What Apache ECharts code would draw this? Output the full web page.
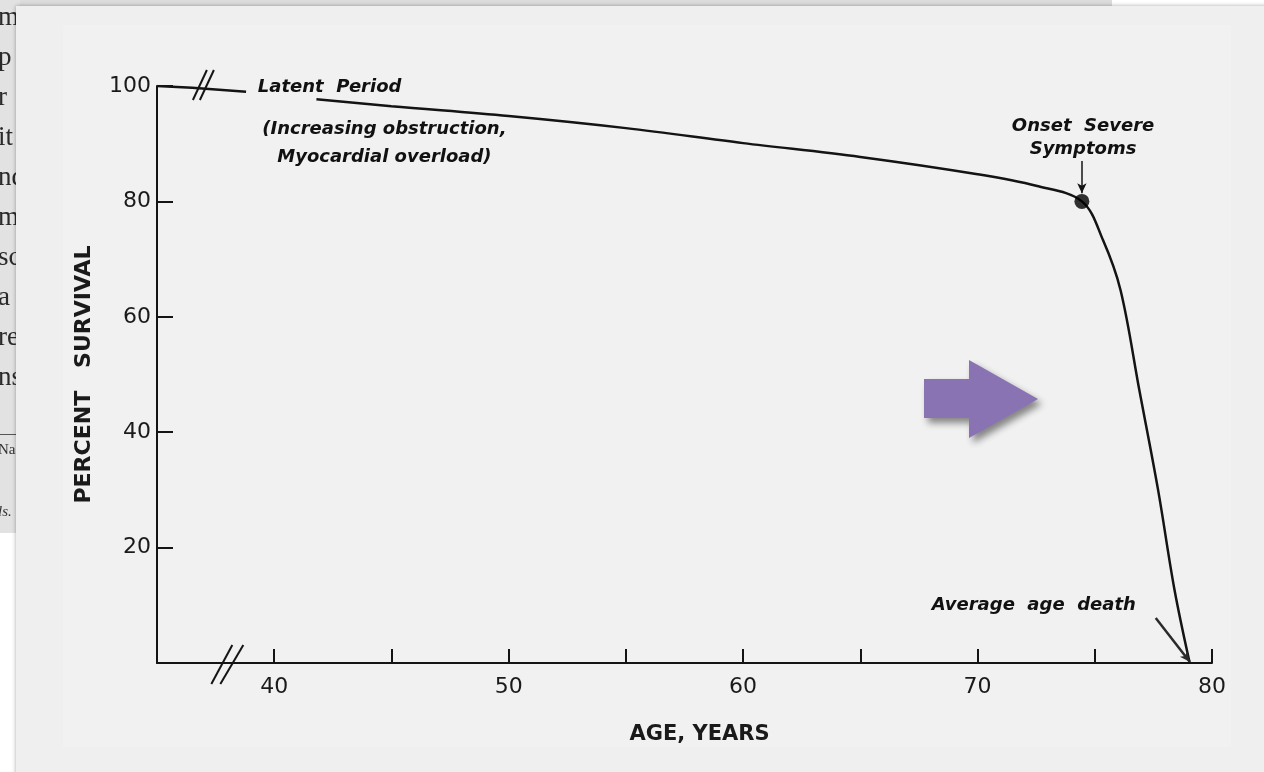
<!DOCTYPE html>
<html><head><meta charset="utf-8">
<script src="https://cdn.jsdelivr.net/npm/echarts@6/dist/echarts.min.js"></script>
<style>html,body{margin:0;padding:0;background:#efefef;overflow:hidden}#c{width:1264px;height:772px}</style>
</head><body><div id="c"></div><script>
// ---- data ----
const leadAges = [35, 36.5, 38.8];
const leadSurvival = [100, 99.7, 99.0];
const ages = [41.8, 45, 50, 55, 60, 65, 70, 72.5, 74.45, 75.35, 76.1, 76.9, 77.7, 78.4, 79.05];
const survival = [97.7, 96.5, 94.8, 92.7, 90.1, 87.7, 84.7, 82.7, 80, 73.3, 64.6, 47.3, 30, 12.7, 0];
const onsetPoint = [74.45, 80];
const averageDeathAge = 79.05;
const xTickLabels = [40, 50, 60, 70, 80];
const yTickLabels = [20, 40, 60, 80, 100];
const xName = 'AGE, YEARS';
const yName = 'PERCENT   SURVIVAL';
const latentText = 'Latent  Period';
const latentDetail = '(Increasing obstruction,\nMyocardial overload)';
const onsetText = 'Onset  Severe\nSymptoms';
const deathText = 'Average  age  death';
const marginLetters = ['m', 'p', 'r', 'it', 'nd', 'm', 'sc', 'a', 're', 'ns'];

const chart = echarts.init(document.getElementById('c'), null, {renderer: 'canvas'});
const ink = '#141414';
const tickFont = {fontFamily: 'DejaVu Sans', fontSize: 22, color: '#1a1a1a'};
const nameFont = {fontFamily: 'DejaVu Sans', fontWeight: 'bold', fontSize: 21, color: '#1a1a1a'};

const option = {
  backgroundColor: '#efefef',
  animation: false,
  grid: {left: 157, right: 52, top: 86, bottom: 109, containLabel: false},
  xAxis: {
    type: 'value', min: 35, max: 80, interval: 5,
    name: xName, nameLocation: 'middle', nameGap: 61,
    nameTextStyle: Object.assign({padding: [0, 0, 0, 30]}, nameFont),
    axisLine: {lineStyle: {color: ink, width: 2}},
    axisTick: {inside: true, length: 14, lineStyle: {color: ink, width: 2}},
    axisLabel: Object.assign({margin: 13, formatter: v => xTickLabels.includes(v) ? String(v) : ''}, tickFont),
    splitLine: {show: false}
  },
  yAxis: {
    type: 'value', min: 0, max: 100, interval: 20,
    name: yName, nameLocation: 'middle', nameGap: 62, nameRotate: 90,
    nameTextStyle: Object.assign({}, nameFont, {fontSize: 22}),
    axisLine: {lineStyle: {color: ink, width: 2}},
    axisTick: {inside: true, length: 16, lineStyle: {color: ink, width: 2}},
    axisLabel: Object.assign({margin: 6, formatter: v => yTickLabels.includes(v) ? String(v) : ''}, tickFont),
    splitLine: {show: false}
  },
  series: [
    {
      type: 'line', data: leadAges.map((a, i) => [a, leadSurvival[i]]),
      showSymbol: false, lineStyle: {color: ink, width: 2.5}, z: 3
    },
    {
      type: 'line', data: ages.map((a, i) => [a, survival[i]]),
      smooth: 0.35,
      showSymbol: false, lineStyle: {color: ink, width: 2.5}, z: 3
    },
    {
      type: 'scatter', data: [onsetPoint], symbolSize: 15,
      itemStyle: {color: '#000'}, z: 4,
      markLine: {
        silent: true, symbol: ['none', 'arrow'], symbolSize: [7, 10],
        label: {show: false},
        data: [
          [{coord: [onsetPoint[0], 87], lineStyle: {color: ink, width: 1.5, type: 'solid'}},
           {coord: [onsetPoint[0], 81.4]}],
          [{coord: [77.6, 7.8], lineStyle: {color: '#2a2a2a', width: 2.5, type: 'solid'}},
           {coord: [averageDeathAge, 0.2]}]
        ]
      }
    }
  ]
};
chart.setOption(option);

function px(p) { return chart.convertToPixel({gridIndex: 0}, p); }
const annFont = {fontFamily: 'DejaVu Sans', fontStyle: 'italic', fontWeight: 'bold', fontSize: 18, fill: '#111'};
const g = [];

// page decorations (scan background)
g.push({type: 'rect', z: -10, shape: {x: 0, y: 0, width: 1264, height: 772}, style: {fill: '#ffffff'}});
g.push({type: 'rect', z: -9, shape: {x: 0, y: 0, width: 1112, height: 14}, style: {fill: '#dcdcdc'}});
g.push({type: 'rect', z: -9, shape: {x: 0, y: 0, width: 20, height: 533}, style: {fill: '#e2e2e2'}});
marginLetters.forEach((s, i) => {
  g.push({type: 'text', z: -8, style: {text: s, x: -2, y: 18 + i * 40, fontFamily: 'Liberation Serif', fontSize: 27, fill: '#2a2a2a', textVerticalAlign: 'middle'}});
});
g.push({type: 'rect', z: -8, shape: {x: 0, y: 434, width: 20, height: 1}, style: {fill: '#555'}});
g.push({type: 'text', z: -8, style: {text: 'Na', x: -2, y: 450, fontFamily: 'Liberation Serif', fontSize: 15, fill: '#333', textVerticalAlign: 'middle'}});
g.push({type: 'text', z: -8, style: {text: 'ls.', x: -2, y: 512, fontFamily: 'Liberation Serif', fontStyle: 'italic', fontSize: 15, fill: '#333', textVerticalAlign: 'middle'}});
g.push({type: 'rect', z: -7, shape: {x: 16, y: 6, width: 1260, height: 780},
  style: {fill: '#efefef', shadowBlur: 4, shadowColor: 'rgba(0,0,0,0.35)', shadowOffsetX: 0, shadowOffsetY: 0}});
g.push({type: 'rect', z: -6, shape: {x: 63, y: 25, width: 1168, height: 722}, style: {fill: '#f1f1f1'}});

// annotations anchored in data space
let p = px([39.3, 99.8]);
g.push({type: 'text', z: 10, style: Object.assign({text: latentText, x: p[0], y: p[1], textVerticalAlign: 'middle', textAlign: 'left'}, annFont)});
p = px([44.7, 90]);
g.push({type: 'text', z: 10, style: Object.assign({text: latentDetail, x: p[0], y: p[1], textVerticalAlign: 'middle', textAlign: 'center', lineHeight: 28}, annFont)});
p = px([74.5, 91]);
g.push({type: 'text', z: 10, style: Object.assign({text: onsetText, x: p[0], y: p[1], textVerticalAlign: 'middle', textAlign: 'center', lineHeight: 23}, annFont)});
p = px([76.75, 10]);
g.push({type: 'text', z: 10, style: Object.assign({text: deathText, x: p[0], y: p[1], textVerticalAlign: 'middle', textAlign: 'right'}, annFont)});

// axis-break marks
p = px([37.0, 100]);
[[-11, 14, 3, -16], [-4, 14, 10, -16]].forEach(d => {
  g.push({type: 'line', z: 10, shape: {x1: p[0] + d[0], y1: p[1] + d[1], x2: p[0] + d[2], y2: p[1] + d[3]}, style: {stroke: ink, lineWidth: 2}});
});
p = px([38.0, 0]);
[[-16, 21, 5, -18], [-7, 21, 16, -18]].forEach(d => {
  g.push({type: 'line', z: 10, shape: {x1: p[0] + d[0], y1: p[1] + d[1], x2: p[0] + d[2], y2: p[1] + d[3]}, style: {stroke: ink, lineWidth: 2}});
});

// purple overlay arrow
g.push({type: 'polygon', z: 20, shape: {points: [[924, 379], [969, 379], [969, 360], [1038, 399], [969, 438], [969, 418], [924, 418]]},
  style: {fill: '#8a73b3', shadowBlur: 7, shadowOffsetX: 4, shadowOffsetY: 5, shadowColor: 'rgba(0,0,0,0.45)'}});

chart.setOption({graphic: g});
</script></body></html>
